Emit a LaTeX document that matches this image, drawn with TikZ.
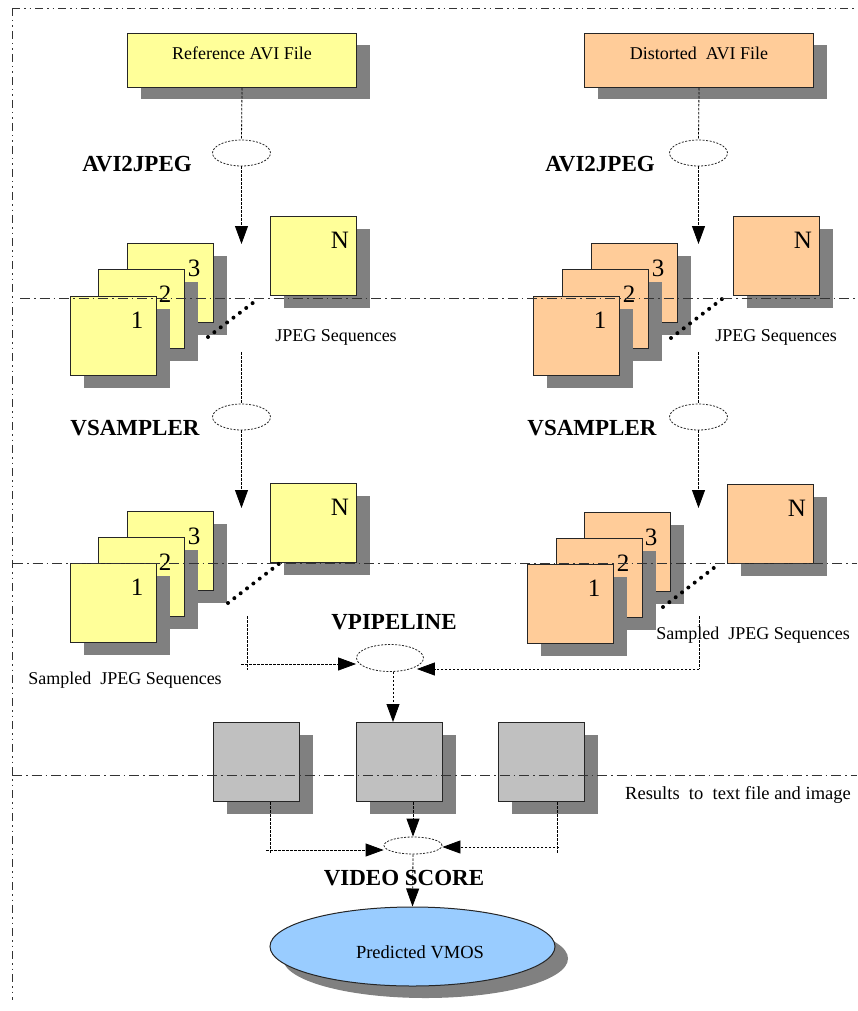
\documentclass[tikz,border=0pt]{standalone}
\usepackage{fontspec}
\setmainfont{Liberation Serif}
\usetikzlibrary{shapes.geometric,shadows,arrows.meta,calc}
\definecolor{yel}{HTML}{FFFF99}
\definecolor{ora}{HTML}{FFCC99}
\definecolor{gry}{HTML}{C0C0C0}
\definecolor{shd}{HTML}{808080}
\definecolor{blu}{HTML}{99CCFF}
\begin{document}
\begin{tikzpicture}[x=1pt,y=-1pt,
 shadowed/.style={general shadow={fill=shd, shadow xshift=13pt, shadow yshift=-12pt}},
 filebox/.style={draw=black!85, line width=1pt, minimum width=229pt, minimum height=54pt, inner sep=0pt, anchor=north west, shadowed},
 frm/.style={draw=black!85, line width=1pt, minimum width=86pt, minimum height=79pt, inner sep=0pt, anchor=north west, shadowed},
 num/.style={font=\fontsize{25}{25}\selectfont, inner sep=0pt},
 proc/.style={ellipse, draw=black!85, line width=0.8pt, dash pattern=on 2pt off 1.5pt, fill=white, inner sep=0pt},
 lbl/.style={font=\fontsize{23}{23}\selectfont\bfseries, inner sep=0pt},
 txt/.style={font=\fontsize{18}{18}\selectfont, inner sep=0pt},
 conn/.style={line width=0.8pt, dash pattern=on 2.5pt off 1.5pt},
 arr/.style={conn, -{Triangle[length=18pt,width=13pt]}},
 sepa/.style={line width=0.9pt, black!80, dash pattern=on 10pt off 4pt on 1.5pt off 4pt},
 sepb/.style={line width=0.9pt, black!80, dash pattern=on 8pt off 4pt on 1.5pt off 4pt on 1.5pt off 4pt},
 dots/.style={line width=4pt, line cap=round, dash pattern=on 0pt off 8pt}
]
\useasboundingbox (0,0) rectangle (857,1011);

% ---------- input files ----------
\node[filebox, fill=yel, label={[txt, yshift=7pt]center:Reference AVI File}] (ref) at (127,33) {};
\node[filebox, fill=ora, label={[txt, yshift=7pt]center:Distorted\ \ AVI File}] (dis) at (584,33) {};

% ---------- AVI2JPEG ----------
\node[proc, minimum width=58pt, minimum height=26pt] (ajL) at (241.5,153) {};
\node[proc, minimum width=58pt, minimum height=26pt] (ajR) at (698.5,153) {};
\node[lbl] (ajLt) at (137,164) {AVI2JPEG};
\node[lbl] (ajRt) at (600,164) {AVI2JPEG};
\draw[conn] (ref.south) -- (ajL.north);
\draw[conn] (dis.south) -- (ajR.north);
\coordinate (ajLend) at (241.5,244);
\coordinate (ajRend) at (698.5,244);
\draw[arr] (ajL.south) -- (ajLend);
\draw[arr] (ajR.south) -- (ajRend);

% ---------- JPEG sequences (left) ----------
\node[frm, fill=yel] (a3) at (127,243) {};
\node[num] (a3n) at ($(a3.north east)+(-20,25)$) {3};
\node[frm, fill=yel] (a2) at (98,269) {};
\node[num] (a2n) at ($(a2.north east)+(-20,25)$) {2};
\node[frm, fill=yel] (a1) at (70,296) {};
\node[num] (a1n) at ($(a1.north east)+(-20,24)$) {1};
\node[frm, fill=yel] (aN) at (270,216) {};
\node[num] (aNn) at ($(aN.north east)+(-17,24)$) {N};
\coordinate (ad1) at (208,337); \coordinate (ad2) at (258,299);
\draw[dots] (ad1) -- (ad2);
\node[txt] (at) at (336,337) {JPEG Sequences};

% ---------- JPEG sequences (right) ----------
\node[frm, fill=ora] (b3) at (591,243) {};
\node[num] (b3n) at ($(b3.north east)+(-20,25)$) {3};
\node[frm, fill=ora] (b2) at (562,269) {};
\node[num] (b2n) at ($(b2.north east)+(-20,25)$) {2};
\node[frm, fill=ora] (b1) at (533,296) {};
\node[num] (b1n) at ($(b1.north east)+(-20,24)$) {1};
\node[frm, fill=ora] (bN) at (733,216) {};
\node[num] (bNn) at ($(bN.north east)+(-17,24)$) {N};
\coordinate (bd1) at (671,338); \coordinate (bd2) at (722,299);
\draw[dots] (bd1) -- (bd2);
\node[txt] (bt) at (776,337) {JPEG Sequences};

% ---------- VSAMPLER ----------
\node[proc, minimum width=58pt, minimum height=26pt] (vsL) at (241.5,417) {};
\node[proc, minimum width=58pt, minimum height=26pt] (vsR) at (698.5,417) {};
\node[lbl] (vsLt) at (135,428) {VSAMPLER};
\node[lbl] (vsRt) at (592,428) {VSAMPLER};
\coordinate (vsLin) at (241.5,352);
\coordinate (vsRin) at (698.5,352);
\draw[conn] (vsLin) -- (vsL.north);
\draw[conn] (vsRin) -- (vsR.north);
\coordinate (vsLend) at (241.5,508);
\coordinate (vsRend) at (698.5,508);
\draw[arr] (vsL.south) -- (vsLend);
\draw[arr] (vsR.south) -- (vsRend);

% ---------- Sampled sequences (left) ----------
\node[frm, fill=yel] (c3) at (127,511) {};
\node[num] (c3n) at ($(c3.north east)+(-20,25)$) {3};
\node[frm, fill=yel] (c2) at (98,537) {};
\node[num] (c2n) at ($(c2.north east)+(-20,25)$) {2};
\node[frm, fill=yel] (c1) at (70,563) {};
\node[num] (c1n) at ($(c1.north east)+(-20,24)$) {1};
\node[frm, fill=yel] (cN) at (270,483) {};
\node[num] (cNn) at ($(cN.north east)+(-17,24)$) {N};
\coordinate (cd1) at (228,603); \coordinate (cd2) at (280,563);
\draw[dots] (cd1) -- (cd2);
\node[txt] (ct) at (125,680) {Sampled\ \ JPEG Sequences};

% ---------- Sampled sequences (right) ----------
\node[frm, fill=ora] (d3) at (584,512) {};
\node[num] (d3n) at ($(d3.north east)+(-20,25)$) {3};
\node[frm, fill=ora] (d2) at (556,538) {};
\node[num] (d2n) at ($(d2.north east)+(-20,25)$) {2};
\node[frm, fill=ora] (d1) at (527,564) {};
\node[num] (d1n) at ($(d1.north east)+(-20,24)$) {1};
\node[frm, fill=ora] (dN) at (727,484) {};
\node[num] (dNn) at ($(dN.north east)+(-17,24)$) {N};
\coordinate (dd1) at (663,607); \coordinate (dd2) at (715,567);
\draw[dots] (dd1) -- (dd2);
\node[txt] (dt) at (753,635) {Sampled\ \ JPEG Sequences};

% ---------- VPIPELINE ----------
\node[proc, minimum width=67pt, minimum height=27pt] (vp) at (390,658) {};
\node[lbl] (vpt) at (394,622) {VPIPELINE};
\coordinate (vpL1) at (247,616); \coordinate (vpL2) at (247,670); \coordinate (vpL3) at (241,664);
\coordinate (vpR1) at (699,616); \coordinate (vpR2) at (699,669);
\draw[conn] (vpL1) -- (vpL2);
\draw[arr] (vpL3) -- (vp.west |- vpL3);
\draw[conn] (vpR1) -- (vpR2);
\draw[arr] (vpR2) -- ($(vp.east)+(-7,11)$);

% ---------- results ----------
\node[frm, fill=gry] (g1) at (213,722) {};
\node[frm, fill=gry] (g2) at (356,722) {};
\node[frm, fill=gry] (g3) at (498,722) {};
\coordinate (vpo) at ($(vp.south)+(3,0)$);
\draw[arr] (vpo) -- (vpo |- g2.north);
\node[txt, font=\fontsize{18.5}{18.5}\selectfont] (rt) at (738,795) {Results\ \ to\ \ text file and image};

% ---------- VIDEO SCORE ----------
\node[proc, minimum width=58pt, minimum height=17pt] (vsc) at (413,845.5) {};
\node[lbl] (vsct) at (404,878) {VIDEO SCORE};
\draw[arr] (vsc.north |- g2.south) -- (vsc.north);
\coordinate (gL1) at (270,802); \coordinate (gL2) at (270,854); \coordinate (gL3) at (266,850);
\coordinate (gR1) at (557,802); \coordinate (gR2) at (557,854); \coordinate (gR3) at (559,847);
\draw[conn] (gL1) -- (gL2);
\draw[arr] (gL3) -- (vsc.west |- gL3);
\draw[conn] (gR1) -- (gR2);
\draw[arr] (gR3) -- (vsc.east |- gR3);

% ---------- Predicted VMOS ----------
\node[ellipse, draw=black!85, line width=1pt, fill=blu, minimum width=285pt, minimum height=79pt, inner sep=0pt, shadowed] (vm) at (412.5,946.5) {};
\node[txt, font=\fontsize{18.5}{18.5}\selectfont] (vmt) at (420,952) {Predicted VMOS};
\draw[arr] (vsc.south) -- (vm.north);

% ---------- separator lines ----------
\coordinate (t1) at (12,8); \coordinate (t2) at (857,8);
\coordinate (l1) at (12,8); \coordinate (l2) at (12,1000);
\draw[sepb] (t1) -- (t2);
\draw[sepb] (l1) -- (l2);
\coordinate (s1a) at (20,298); \coordinate (s1b) at (857,298);
\coordinate (s2a) at (13,563); \coordinate (s2b) at (857,563);
\coordinate (s3a) at (12,775); \coordinate (s3b) at (857,775);
\draw[sepa] (s1a) -- (s1b);
\draw[sepa] (s2a) -- (s2b);
\draw[sepa] (s3a) -- (s3b);
\end{tikzpicture}
\end{document}
